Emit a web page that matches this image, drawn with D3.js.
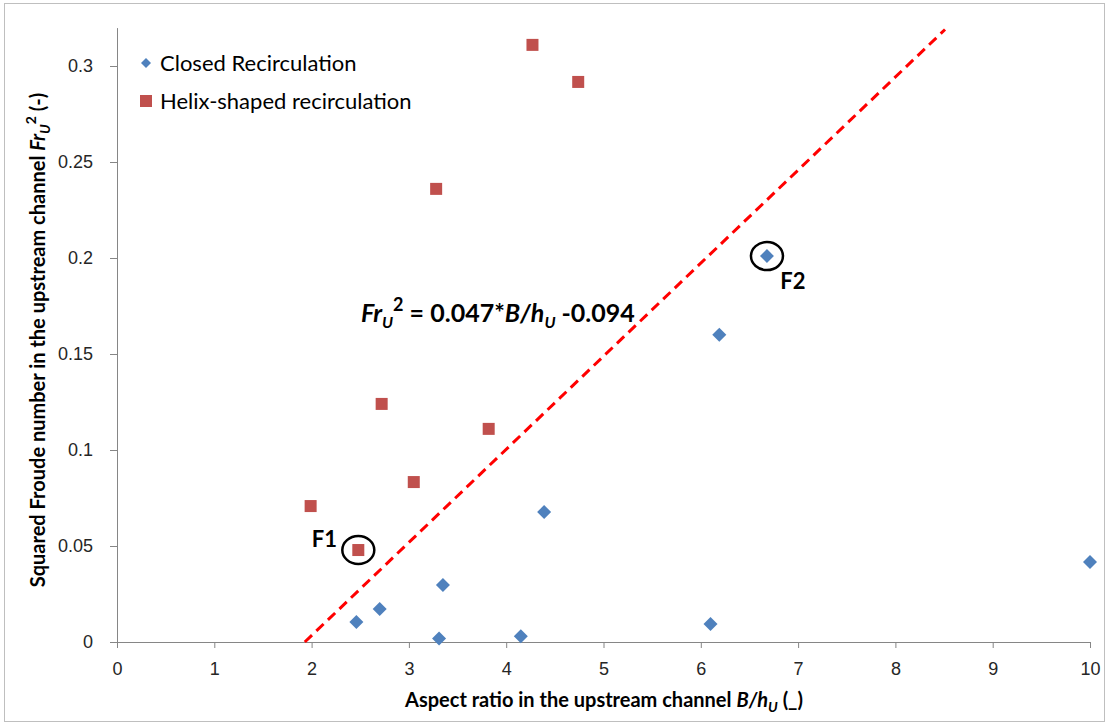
<!DOCTYPE html>
<html>
<head>
<meta charset="utf-8">
<script src="https://cdn.jsdelivr.net/npm/d3@7"></script>
<style>
  body { margin: 0; background: #fff; }
  svg { font-family: Lato, "Open Sans", sans-serif; }
</style>
</head>
<body>
<svg width="1109" height="726"></svg>
<script>
// closed recirculation (blue diamonds)
const closedX = [2.46, 2.70, 3.31, 3.35, 4.15, 4.39, 6.10, 6.19, 6.68, 10.0];
const closedY = [0.0104, 0.0172, 0.0018, 0.0297, 0.003, 0.0677, 0.0094, 0.160, 0.201, 0.0417];

// helix-shaped recirculation (red squares)
const helixX = [1.99, 2.48, 2.72, 3.05, 3.28, 3.82, 4.27, 4.74];
const helixY = [0.0708, 0.0479, 0.124, 0.0833, 0.236, 0.111, 0.311, 0.2917];

// trend line ends as drawn
const trendX = [1.93, 8.51];
const trendY = [0, 0.319];

const xTicks = [0, 1, 2, 3, 4, 5, 6, 7, 8, 9, 10];
const yTicks = [0, 0.05, 0.1, 0.15, 0.2, 0.25, 0.3];

const BLUE = '#4F81BD';
const RED = '#C0504D';

const svg = d3.select('svg');

// outer frame
svg.append('rect')
    .attr('x', 4.5).attr('y', 3.5)
    .attr('width', 1100).attr('height', 718)
    .attr('fill', 'none')
    .attr('stroke', '#bfbfbf');

const x = d3.scaleLinear().domain([0, 10]).range([117, 1090]);
const y = d3.scaleLinear().domain([0, 0.32]).range([642, 27.6]);

// x axis
const xAxis = svg.append('g')
    .attr('transform', 'translate(0,642)')
    .call(d3.axisBottom(x).tickValues(xTicks).tickFormat(d3.format('d')).tickSize(6).tickSizeOuter(0).tickPadding(14));
xAxis.select('.domain').attr('stroke', '#868686');
xAxis.selectAll('.tick line').attr('stroke', '#868686');
xAxis.selectAll('.tick text').attr('fill', '#262626').style('font-size', '18px');

// y axis
const yAxis = svg.append('g')
    .attr('transform', 'translate(117,0)')
    .call(d3.axisLeft(y).tickValues(yTicks).tickFormat(d => d === 0 ? '0' : String(d)).tickSize(7).tickSizeOuter(0).tickPadding(17));
yAxis.select('.domain').attr('stroke', '#868686');
yAxis.selectAll('.tick line').attr('stroke', '#868686');
yAxis.selectAll('.tick text').attr('fill', '#262626').style('font-size', '18px');

// trend line
svg.append('line')
    .attr('x1', x(trendX[0])).attr('y1', y(trendY[0]))
    .attr('x2', x(trendX[1])).attr('y2', y(trendY[1]))
    .attr('stroke', '#FF0000')
    .attr('stroke-width', 3)
    .attr('stroke-dasharray', '10,6');

// closed points
svg.selectAll('.closed')
    .data(closedX.map((v, i) => [v, closedY[i]]))
    .enter()
    .append('path')
    .classed('closed', true)
    .attr('d', d3.symbol(d3.symbolDiamond2, 125))
    .attr('transform', d => `translate(${x(d[0])},${y(d[1])})`)
    .attr('fill', BLUE);

// helix points
svg.selectAll('.helix')
    .data(helixX.map((v, i) => [v, helixY[i]]))
    .enter()
    .append('rect')
    .classed('helix', true)
    .attr('width', 12).attr('height', 12)
    .attr('x', d => x(d[0]) - 6)
    .attr('y', d => y(d[1]) - 6)
    .attr('fill', RED);

// circled points F1, F2
const circled = [
    { px: helixX[1], py: helixY[1], label: 'F1', dx: -34, dy: -3 },
    { px: closedX[8], py: closedY[8], label: 'F2', dx: 26, dy: 33 }
];
svg.selectAll('.ring')
    .data(circled)
    .enter()
    .append('ellipse')
    .attr('cx', d => x(d.px))
    .attr('cy', d => y(d.py))
    .attr('rx', 16).attr('ry', 14)
    .attr('fill', 'none')
    .attr('stroke', '#000')
    .attr('stroke-width', 2.5);
svg.selectAll('.flabel')
    .data(circled)
    .enter()
    .append('text')
    .attr('x', d => x(d.px) + d.dx)
    .attr('y', d => y(d.py) + d.dy)
    .attr('text-anchor', 'middle')
    .style('font-size', '22px')
    .style('font-weight', 'bold')
    .text(d => d.label);

// equation
const eq = svg.append('text')
    .attr('x', 361).attr('y', 322)
    .style('font-size', '25px')
    .style('font-weight', 'bold');
eq.append('tspan').style('font-style', 'italic').text('Fr');
eq.append('tspan').style('font-style', 'italic').style('font-size', '16px').attr('dy', 6).text('U');
eq.append('tspan').style('font-size', '18px').attr('dy', -17).text('2');
eq.append('tspan').attr('dy', 11).text(' = 0.047*');
eq.append('tspan').style('font-style', 'italic').text('B/h');
eq.append('tspan').style('font-style', 'italic').style('font-size', '16px').attr('dy', 6).text('U');
eq.append('tspan').attr('dy', -6).text(' -0.094');

// legend
const legend = svg.append('g');
legend.append('path')
    .attr('d', d3.symbol(d3.symbolDiamond2, 64))
    .attr('transform', 'translate(146,63)')
    .attr('fill', BLUE);
legend.append('rect')
    .attr('x', 140).attr('y', 95).attr('width', 12).attr('height', 12)
    .attr('fill', RED);
legend.append('text').attr('x', 160).attr('y', 71)
    .style('font-size', '22px').attr('fill', '#000').text('Closed Recirculation');
legend.append('text').attr('x', 160).attr('y', 109)
    .style('font-size', '22px').attr('fill', '#000').text('Helix-shaped recirculation');

// x axis title
const xt = svg.append('text')
    .attr('x', 604).attr('y', 707)
    .attr('text-anchor', 'middle')
    .style('font-size', '20px')
    .style('font-weight', 'bold');
xt.append('tspan').text('Aspect ratio in the upstream channel ');
xt.append('tspan').style('font-style', 'italic').text('B/h');
xt.append('tspan').style('font-style', 'italic').style('font-size', '14px').attr('dy', 5).text('U');
xt.append('tspan').attr('dy', -5).text(' (_)');

// y axis title
const yt = svg.append('text')
    .attr('transform', 'translate(45,340) rotate(-90)')
    .attr('text-anchor', 'middle')
    .style('font-size', '20px')
    .style('font-weight', 'bold');
yt.append('tspan').text('Squared Froude number in the upstream channel ');
yt.append('tspan').style('font-style', 'italic').text('Fr');
yt.append('tspan').style('font-style', 'italic').style('font-size', '14px').attr('dy', 5).text('U');
yt.append('tspan').style('font-size', '14px').attr('dy', -14).text('2');
yt.append('tspan').attr('dy', 9).text(' (-)');
</script>
</body>
</html>
